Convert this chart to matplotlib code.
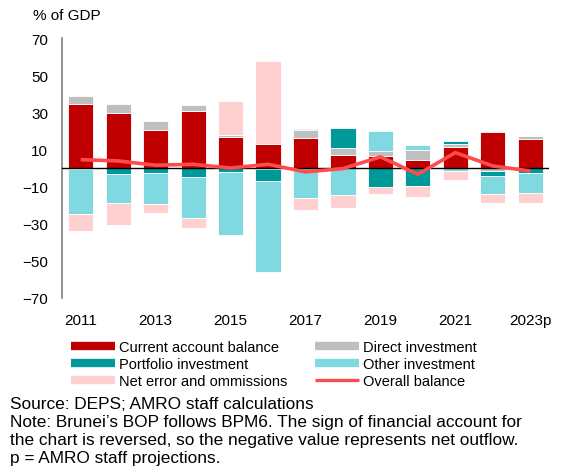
import matplotlib
matplotlib.use("Agg")
import matplotlib.pyplot as plt
from matplotlib.lines import Line2D
import numpy as np

plt.rcParams['font.family'] = ['Liberation Sans', 'DejaVu Sans']

years = ["2011", "2012", "2013", "2014", "2015", "2016", "2017",
         "2018", "2019", "2020", "2021", "2022", "2023p"]
current_account = [34.7, 29.8, 20.7, 30.5, 16.5, 13.0, 16.4, 6.8, 6.5, 4.5, 11.2, 19.6, 15.8]
direct_inv = [3.9, 4.7, 4.5, 3.5, 1.5, -0.8, 3.9, 4.0, 2.9, 5.0, 1.6, -1.5, 1.6]
portfolio_inv = [-0.8, -3.0, -2.5, -4.6, -2.3, -6.0, 0.5, 10.8, -10.0, -9.6, 1.8, -2.6, -2.5]
other_inv = [-23.8, -15.6, -16.7, -22.1, -33.9, -49.2, -15.9, -14.7, 10.7, 3.1, -1.8, -10.0, -11.1]
net_errors = [-9.5, -11.9, -4.8, -5.8, 18.3, 44.5, -6.9, -6.6, -4.1, -6.2, -4.6, -4.7, -5.2]
overall = [4.5, 3.8, 1.5, 2.0, 0.0, 2.0, -2.1, -0.3, 6.0, -3.4, 8.3, 1.1, -1.6]

series = [
    ("Current account balance", current_account, "#C00000"),
    ("Direct investment", direct_inv, "#BFBFBF"),
    ("Portfolio investment", portfolio_inv, "#009999"),
    ("Other investment", other_inv, "#80D9E1"),
    ("Net error and ommissions", net_errors, "#FFD0D0"),
]

W, H = 566, 477
fig = plt.figure(figsize=(W / 100, H / 100), dpi=100)
ax = fig.add_axes([0.1095, 0.3732, 0.8605, 0.545])

x = np.arange(len(years))
pos_base = np.zeros(len(years))
neg_base = np.zeros(len(years))
for name, vals, col in series:
    v = np.array(vals)
    base = np.where(v >= 0, pos_base, neg_base)
    ax.bar(x, v, bottom=base, width=0.67, color=col, edgecolor="white",
           linewidth=0.6, zorder=2)
    pos_base += np.where(v >= 0, v, 0)
    neg_base += np.where(v < 0, v, 0)

ax.axhline(0, color="black", lw=1, zorder=3)
ax.plot(x, overall, color="#FF4B4B", lw=2.6, zorder=4, solid_capstyle="butt")

ax.set_xlim(-0.5, 12.5)
ax.set_ylim(-70, 70)
ax.set_yticks(np.arange(-70, 71, 20))
ax.set_xticks(x[::2])
ax.set_xticklabels(years[::2])
ax.tick_params(axis="both", length=0, labelsize=11)
ax.tick_params(axis="y", pad=10)
ax.tick_params(axis="x", pad=11)
for s in ["top", "right", "bottom"]:
    ax.spines[s].set_visible(False)
ax.spines["left"].set_color("#7F7F7F")
ax.spines["left"].set_linewidth(1.2)

fig.text(0.058, 0.966, "% of GDP", fontsize=11, va="center", ha="left")

handles = [
    Line2D([], [], color="#C00000", lw=6, solid_capstyle="butt"),
    Line2D([], [], color="#009999", lw=6, solid_capstyle="butt"),
    Line2D([], [], color="#FFD0D0", lw=6, solid_capstyle="butt"),
    Line2D([], [], color="#BFBFBF", lw=6, solid_capstyle="butt"),
    Line2D([], [], color="#80D9E1", lw=6, solid_capstyle="butt"),
    Line2D([], [], color="#FF4B4B", lw=2.4, solid_capstyle="butt"),
]
labels = ["Current account balance", "Portfolio investment", "Net error and ommissions",
          "Direct investment", "Other investment", "Overall balance"]
fig.legend(handles, labels, ncol=2, frameon=False, fontsize=10.5,
           loc="upper left", bbox_to_anchor=(0.1262, 0.285),
           handlelength=3.0, handletextpad=0.27, columnspacing=1.92,
           labelspacing=0.2, borderpad=0, borderaxespad=0)

notes = ["Source: DEPS; AMRO staff calculations",
         "Note: Brunei\u2019s BOP follows BPM6. The sign of financial account for",
         "the chart is reversed, so the negative value represents net outflow.",
         "p = AMRO staff projections."]
for i, t in enumerate(notes):
    fig.text(10 / W, 1 - (404.5 + 18 * i) / H, t, fontsize=12.4, va="center", ha="left")

fig.savefig("out.png", dpi=100)
